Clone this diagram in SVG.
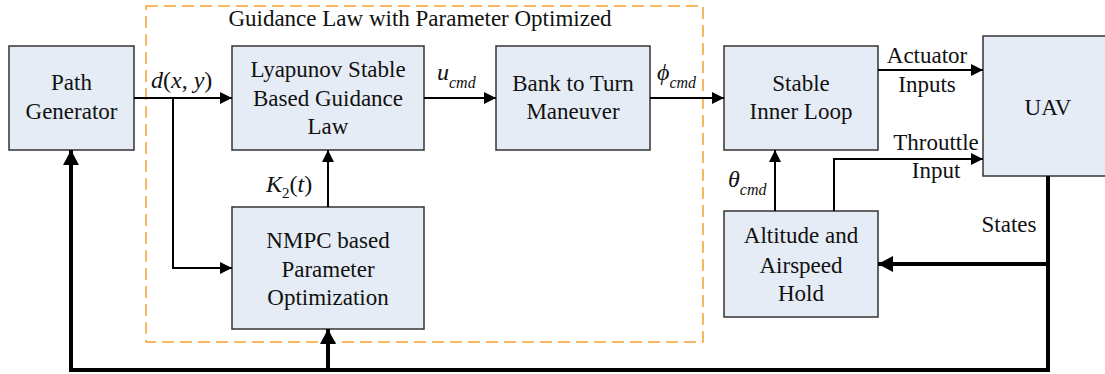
<svg xmlns="http://www.w3.org/2000/svg" width="1105" height="374" viewBox="0 0 1105 374">
<style>
.t{fill:#111;text-anchor:middle}
.lab{fill:#111}
.box{fill:#E6ECF6;stroke:#333;stroke-width:1.5}
.it{font-style:italic}
.sub{font-size:16px;font-style:italic}
.thin{fill:none;stroke:#000;stroke-width:2}
.thick{fill:none;stroke:#000;stroke-width:4}
</style>
<defs>
<marker id="a" markerUnits="userSpaceOnUse" markerWidth="12" markerHeight="12" refX="12" refY="6" orient="auto"><path d="M0,0 L12,6 L0,12 z" fill="#000"/></marker>
<marker id="b" markerUnits="userSpaceOnUse" markerWidth="15" markerHeight="16" refX="15" refY="8" orient="auto"><path d="M0,0 L15,8 L0,16 z" fill="#000"/></marker>
</defs>
<rect x="146" y="6" width="557" height="336" fill="none" stroke="#F5A030" stroke-width="1.5" stroke-dasharray="12,6"/>
<text class="t" font-family="Liberation Serif" font-size="23" x="420" y="26">Guidance Law with Parameter Optimized</text>
<g id="path-generator"><rect class="box" x="9" y="46" width="125" height="104"/><text class="t" font-family="Liberation Serif" font-size="23" x="71.5" y="90">Path</text><text class="t" font-family="Liberation Serif" font-size="23" x="71.5" y="119">Generator</text></g>
<g id="lyapunov"><rect class="box" x="232" y="46" width="192" height="104"/><text class="t" font-family="Liberation Serif" font-size="23" x="328" y="77">Lyapunov Stable</text><text class="t" font-family="Liberation Serif" font-size="23" x="328" y="106">Based Guidance</text><text class="t" font-family="Liberation Serif" font-size="23" x="328" y="134">Law</text></g>
<g id="bank-to-turn"><rect class="box" x="496" y="46" width="154" height="104"/><text class="t" font-family="Liberation Serif" font-size="23" x="573" y="91">Bank to Turn</text><text class="t" font-family="Liberation Serif" font-size="23" x="573" y="119">Maneuver</text></g>
<g id="inner-loop"><rect class="box" x="724" y="46" width="154" height="104"/><text class="t" font-family="Liberation Serif" font-size="23" x="801" y="91">Stable</text><text class="t" font-family="Liberation Serif" font-size="23" x="801" y="119">Inner Loop</text></g>
<g id="uav"><rect class="box" x="983" y="36" width="130" height="140"/><text class="t" font-family="Liberation Serif" font-size="23" x="1048" y="115">UAV</text></g>
<g id="nmpc"><rect class="box" x="232" y="207" width="192" height="122"/><text class="t" font-family="Liberation Serif" font-size="23" x="328" y="248">NMPC based</text><text class="t" font-family="Liberation Serif" font-size="23" x="328" y="277">Parameter</text><text class="t" font-family="Liberation Serif" font-size="23" x="328" y="305">Optimization</text></g>
<g id="alt-hold"><rect class="box" x="724" y="211" width="154" height="106"/><text class="t" font-family="Liberation Serif" font-size="23" x="801" y="243">Altitude and</text><text class="t" font-family="Liberation Serif" font-size="23" x="801" y="273">Airspeed</text><text class="t" font-family="Liberation Serif" font-size="23" x="801" y="301">Hold</text></g>
<g id="connectors">
<path class="thin" d="M134,98 H232" marker-end="url(#a)"/>
<path class="thin" d="M173,98 V268 H232" marker-end="url(#a)"/>
<path class="thin" d="M328,207 V150" marker-end="url(#a)"/>
<path class="thin" d="M424,98 H496" marker-end="url(#a)"/>
<path class="thin" d="M650,98 H724" marker-end="url(#a)"/>
<path class="thin" d="M878,70 H983" marker-end="url(#a)"/>
<path class="thin" d="M775,211 V150" marker-end="url(#a)"/>
<path class="thin" d="M834,211 V159 H983" marker-end="url(#a)"/>
<path class="thick" d="M1048,176 V370 H71 V150" marker-end="url(#b)"/>
<path class="thick" d="M1050,264 H878" marker-end="url(#b)"/>
<path class="thick" d="M328,370 V329" marker-end="url(#b)"/>
</g>
<g id="labels">
<text class="lab" font-family="Liberation Serif" font-size="24" x="151" y="88"><tspan class="it">d</tspan>(<tspan class="it">x</tspan>, <tspan class="it">y</tspan>)</text>
<text class="lab" font-family="Liberation Serif" font-size="24" x="266" y="192"><tspan class="it">K</tspan><tspan font-size="15" dy="6">2</tspan><tspan dy="-6">(</tspan><tspan class="it">t</tspan>)</text>
<text class="lab" font-family="Liberation Serif" font-size="24" x="437" y="80"><tspan class="it">u</tspan><tspan class="sub" dy="8">cmd</tspan></text>
<text class="lab" font-family="Liberation Serif" font-size="24" x="657" y="80"><tspan class="it">ϕ</tspan><tspan class="sub" dy="8">cmd</tspan></text>
<text class="lab" font-family="Liberation Serif" font-size="24" x="728" y="187"><tspan class="it">θ</tspan><tspan class="sub" dy="8">cmd</tspan></text>
<text class="t" font-family="Liberation Serif" font-size="23" x="927" y="63">Actuator</text>
<text class="t" font-family="Liberation Serif" font-size="23" x="927" y="92">Inputs</text>
<text class="t" font-family="Liberation Serif" font-size="23" x="936" y="150">Throuttle</text>
<text class="t" font-family="Liberation Serif" font-size="23" x="936" y="178">Input</text>
<text class="t" font-family="Liberation Serif" font-size="23" x="1009" y="232">States</text>
</g>
</svg>
